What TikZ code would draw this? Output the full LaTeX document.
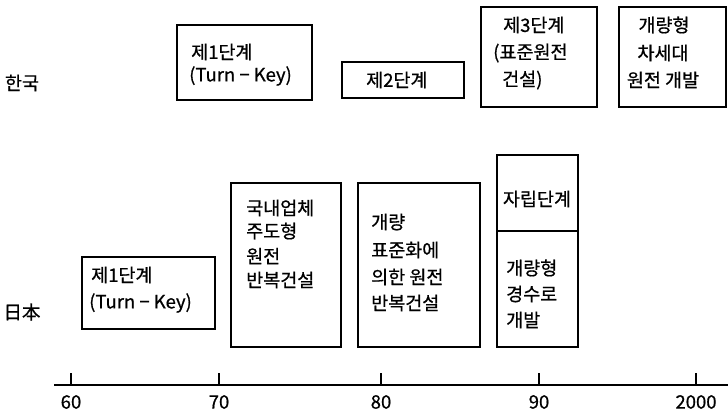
\documentclass[tikz,border=0pt]{standalone}
\usepackage{fontspec}
\setmainfont{Noto Sans CJK KR}[BoldFont=Noto Sans CJK KR,BoldFeatures={FakeBold=0.7}]
\begin{document}
\begin{tikzpicture}[x=1pt,y=-1pt,
  box/.style={draw=black,line width=1.2pt,inner sep=0pt,outer sep=0pt,anchor=north west},
  txt/.style={inner sep=0pt,font=\fontsize{18.5}{20}\selectfont\bfseries,anchor=west},
  ctxt/.style={inner sep=0pt,font=\fontsize{18.5}{20}\selectfont\bfseries,anchor=center},
  tick/.style={line width=1.1pt},
  axis/.style={line width=1.2pt}]
\useasboundingbox (0,0) rectangle (728,415);
% Korea row
\node[ctxt] (kr) at (22,83) {한국};
\node[box,minimum width=135pt,minimum height=75pt] (k1) at (177,25) {};
\node[txt] (k1a) at (191,52) {제1단계};
\node[txt] (k1b) at (189,76) {(Turn − Key)};
\node[box,minimum width=122pt,minimum height=36pt] (k2) at (342,62) {};
\node[txt] (k2a) at (366,80) {제2단계};
\node[box,minimum width=116pt,minimum height=100pt] (k3) at (481,7) {};
\node[txt] (k3a) at (503,25) {제3단계};
\node[txt] (k3b) at (493,53) {(표준원전};
\node[txt] (k3c) at (502,80) {건설)};
\node[box,minimum width=107pt,minimum height=100pt] (k4) at (619,7) {};
\node[ctxt] (k4a) at (664,25) {개량형};
\node[ctxt] (k4b) at (663,53) {차세대};
\node[ctxt] (k4c) at (663,80) {원전 개발};
% Japan row
\node[ctxt] (jp) at (22,312) {日本};
\node[box,minimum width=133pt,minimum height=72pt] (j1) at (82,257) {};
\node[txt] (j1a) at (91,275) {제1단계};
\node[txt] (j1b) at (89,303) {(Turn − Key)};
\node[box,minimum width=110pt,minimum height=164pt] (j2) at (231,183) {};
\node[txt] (j2a) at (246,208) {국내업체};
\node[txt] (j2b) at (246,231) {주도형};
\node[txt] (j2c) at (246,256) {원전};
\node[txt] (j2d) at (246,280) {반복건설};
\node[box,minimum width=122pt,minimum height=164pt] (j3) at (358,183) {};
\node[txt] (j3a) at (371,222) {개량};
\node[txt] (j3b) at (371,250) {표준화에};
\node[txt] (j3c) at (371,277) {의한 원전};
\node[txt] (j3d) at (371,303) {반복건설};
\node[box,minimum width=81pt,minimum height=76pt] (j4) at (497,155) {};
\node[ctxt] (j4a) at (537,199) {자립단계};
\node[box,minimum width=81pt,minimum height=116pt] (j5) at (497,231) {};
\node[txt] (j5a) at (506,268) {개량형};
\node[txt] (j5b) at (506,294) {경수로};
\node[txt] (j5c) at (506,320) {개발};
% axis
\coordinate (a0) at (54,385);
\coordinate (a1) at (728,385);
\draw[axis] (a0) -- (a1);
\foreach \x/\l/\n in {71/60/t60,219/70/t70,381/80/t80,539/90/t90,696/2000/t2000}{
  \coordinate (\n) at (\x,385);
  \draw[tick] (\n) -- ++(0,-12);
  \node[ctxt] (l\n) at (\x,402) {\l};
}
\end{tikzpicture}
\end{document}
